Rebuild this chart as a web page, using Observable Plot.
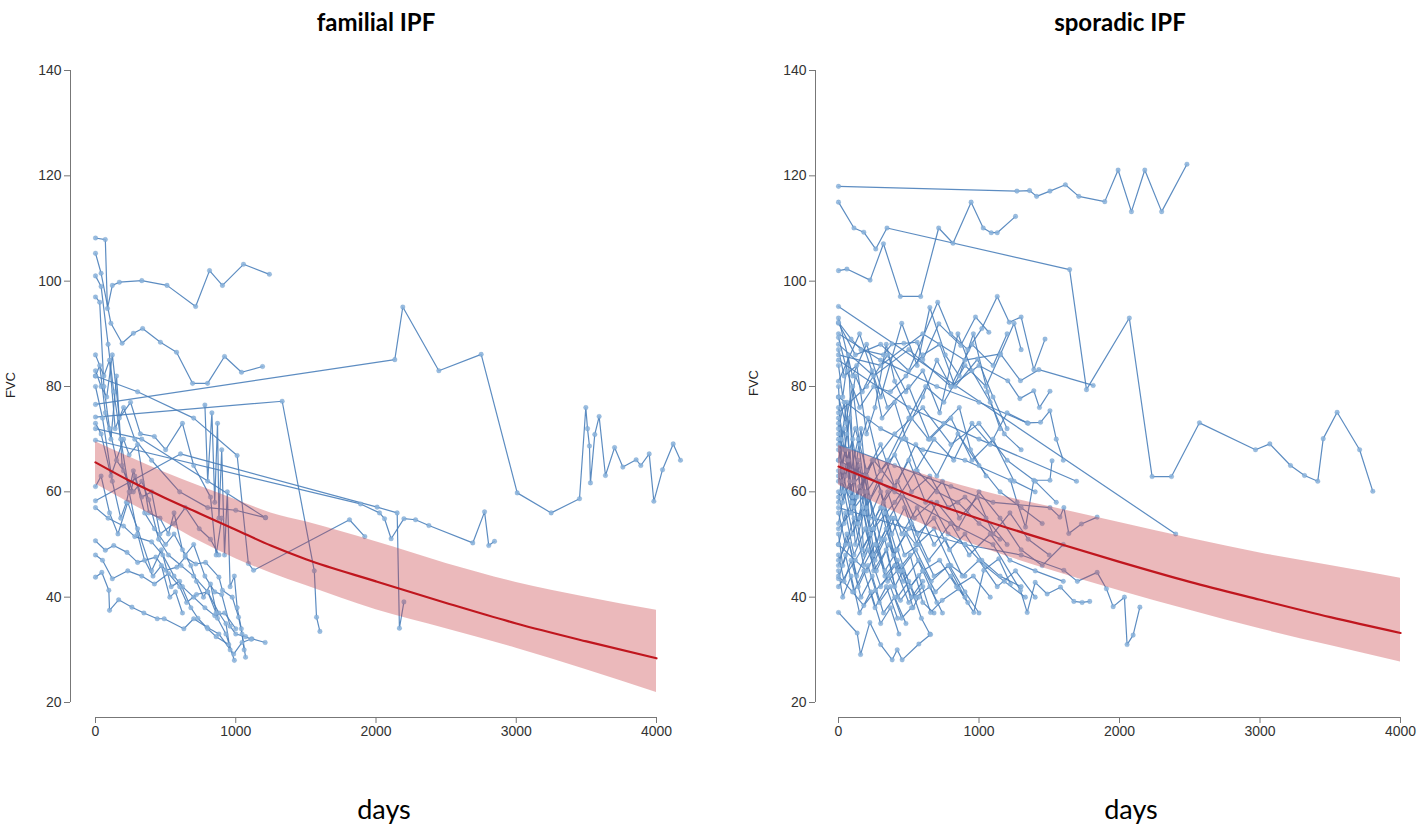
<!DOCTYPE html>
<html>
<head>
<meta charset="utf-8">
<script src="https://cdn.jsdelivr.net/npm/d3@7"></script>
<script src="https://cdn.jsdelivr.net/npm/@observablehq/plot@0.6"></script>
<style>
  body { margin: 0; background: #fff; }
  #wrap { position: relative; width: 1418px; height: 827px; overflow: hidden; background: #fff; }
  .panel { position: absolute; top: 0; }
  .title { position: absolute; top: 7px; font-family: Lato, "Open Sans", sans-serif; font-weight: 700; font-size: 24px; color: #000; transform: translateX(-50%); white-space: nowrap; }
  .xlab { position: absolute; top: 792px; font-family: Lato, "Open Sans", sans-serif; font-size: 27px; color: #000; transform: translateX(-50%); }
  .ylab { position: absolute; font-family: "Liberation Sans", Arial, sans-serif; font-size: 13px; color: #222; transform: translate(-50%, -50%) rotate(-90deg); }
</style>
</head>
<body>
<div id="wrap">
  <div class="title" style="left:376px">familial IPF</div>
  <div class="title" style="left:1120px">sporadic IPF</div>
  <div class="xlab" style="left:384px">days</div>
  <div class="xlab" style="left:1131px">days</div>
  <div class="ylab" style="left:10px; top:385px">FVC</div>
  <div class="ylab" style="left:753px; top:383px">FVC</div>
  <div id="left" class="panel" style="left:0px"></div>
  <div id="right" class="panel" style="left:709px"></div>
</div>
<script>
// ---------- tick labels ----------
const yTicks = [20, 40, 60, 80, 100, 120, 140];
const xTicks = [0, 1000, 2000, 3000, 4000];

// ---------- familial IPF: patient trajectories [day, FVC] ----------
const familialTrajectories = [
  [[0,108.2],[70,107.9],[85,94.8],[120,99.2],[170,99.8],[330,100.1],[510,99.2],[714,95.2],[813,102],[905,99.2],[1055,103.2],[1240,101.3]],
  [[0,105.3],[40,101.5],[110,92],[190,88.2],[270,90.1],[336,91],[463,88.4],[578,86.5],[692,80.6],[799,80.6],[920,85.7],[1041,82.7],[1191,83.8]],
  [[0,76.6],[2134,85.1],[2191,95.1],[2448,83],[2750,86.1],[3007,59.8],[3249,56],[3451,58.7],[3496,76],[3508,72],[3522,68.7],[3529,61.7],[3560,70.9],[3591,74.3],[3636,63.1],[3701,68.4],[3760,64.7],[3855,66.1],[3888,65],[3948,67.2],[3981,58.2],[4043,64.2],[4119,69.1],[4171,66]],
  [[0,74.2],[1331,77.2],[1560,45],[1576,36.2],[1600,33.5]],
  [[0,69.8],[1890,57.7],[2025,56],[2061,54.9],[2108,51.1],[2199,54.9],[2282,54.7],[2377,53.6],[2690,50.3],[2774,56.2],[2804,49.8],[2845,50.6]],
  [[0,58.3],[606,67.2],[2008,57.1],[2151,56],[2167,34.1],[2199,39.1]],
  [[0,82],[300,79],[700,74],[1010,66.9],[1090,46.4],[1127,45.1],[1811,54.7],[1920,51.5]],
  [[0,43.8],[45,44.7],[95,41.3],[100,37.5],[165,39.5],[260,38.1],[345,37],[440,35.9],[490,35.9],[630,34],[700,35.9],[795,34.3],[880,33],[985,29.2],[1045,31.4],[1115,32.1],[1210,31.4]],
  [[0,50.7],[70,48.9],[130,49.8],[225,48.5],[300,46.6],[430,47.6],[500,45.1],[580,45.7],[640,47.6],[715,46.3],[785,46.6],[880,43.8],[905,41.3],[975,40],[1020,36.2],[1045,33],[1070,28.6]],
  [[0,57],[90,55],[200,53.5],[280,51.5],[400,50.5],[480,48],[560,44],[620,42],[700,40],[780,38],[850,36.5],[920,37],[1000,34]],
  [[0,48],[50,47],[120,43.5],[230,45],[330,44],[420,42.5],[520,44.5],[600,42],[650,39],[720,40.5],[800,41],[880,37],[930,35],[960,30]],
  [[780,76.5],[800,62],[830,75],[850,58],[870,73],[880,55],[900,68],[920,48],[940,60],[960,42],[990,44],[1010,38],[1040,34],[1060,30]],
  [[0,86],[60,82],[100,85],[140,72],[200,76],[280,70],[400,66],[600,60],[800,57],[1000,56.5],[1212,55.1]],
  [[0,83],[40,80],[80,78],[120,86],[170,74],[250,77],[320,71],[420,70.5],[500,68],[620,73],[700,65],[820,59],[860,48],[900,55]],
  [[0,82],[30,84],[70,75],[110,70],[150,82],[190,65],[250,60],[280,63],[350,56],[420,53],[500,50],[560,52],[640,48],[700,50],[780,44],[850,41],[900,40.5],[960,34.5],[1000,33],[1070,32.5],[1110,32]],
  [[0,97],[30,96],[60,80],[100,72],[150,66],[200,64],[270,60],[330,62],[380,58.5],[450,51],[520,48],[610,46],[700,44],[800,41],[860,37]],
  [[0,73],[40,71],[110,63],[200,70],[240,67],[300,69],[380,56],[460,55],[520,52],[560,56],[620,49],[680,46],[720,43],[770,40],[820,42.5],[870,36],[930,33],[990,28]],
  [[0,80],[50,74],[120,62],[180,55],[220,58],[270,64],[330,59],[400,60],[460,52],[560,54],[640,57],[740,53],[820,51],[880,48]],
  [[0,61],[40,63],[100,56],[160,52],[230,58],[300,53],[400,45],[470,49],[540,42],[600,43],[680,38],[730,36],[800,34],[860,32.5],[950,31]],
  [[0,101],[40,99],[90,88],[130,79],[180,70],[240,60],[300,52],[350,47],[410,44],[470,46],[530,40],[570,41],[620,37]],
  [[0,72],[330,70],[1212,55.1]]
];

// ---------- familial IPF: fitted curve and band ----------
const familialFitDays  = [0, 250, 500, 750, 1000, 1250, 1500, 2000, 2500, 3000, 3500, 4000];
const familialFitMean  = [65.6, 62, 58.8, 55.8, 52.8, 49.8, 47.2, 43, 38.9, 35, 31.6, 28.4];
const familialFitUpper = [69.5, 66.5, 63.6, 61, 58.5, 56, 54.3, 50.5, 46.4, 42.8, 40, 37.5];
const familialFitLower = [61.5, 57.8, 54.2, 50.5, 47.3, 44.6, 42.2, 37.6, 34, 30.3, 26.2, 21.9];

// ---------- sporadic IPF: patient trajectories [day, FVC] ----------
const sporadicTrajectories = [
  [[0,118],[1270,117.1],[1360,117.2],[1410,116.1],[1505,117.1],[1615,118.3],[1710,116.1],[1895,115.1],[1990,121.1],[2085,113.2],[2180,121.1],[2300,113.2],[2480,122.2]],
  [[0,115],[110,110.1],[180,109.3],[265,106.1],[345,110.1],[1645,102.2],[1765,79.4],[2070,93],[2232,62.9],[2370,62.9],[2569,73.1],[2968,68],[3070,69.1],[3217,65],[3317,63.1],[3411,62],[3450,70.1],[3549,75.1],[3709,68],[3803,60.1]],
  [[0,86],[300,84],[600,90],[900,85],[1153,86.2],[1295,81.1],[1426,83.2],[1813,80.2]],
  [[0,102],[60,102.3],[225,100.2],[320,107.1],[440,97.1],[585,97.1],[713,110.1],[815,107.2],[944,115],[1030,110.1],[1087,109.2],[1130,109.2],[1260,112.3]],
  [[0,95.2],[2400,52]],
  [[0,92],[120,86],[300,88],[500,83],[706,96],[800,90],[920,87],[1020,91],[1130,97.1],[1215,92.2],[1300,93.2],[1390,83.2],[1470,89]],
  [[0,88],[250,82],[500,87],[800,80],[1000,84],[1205,81.1],[1291,77.7],[1390,79.2],[1430,76],[1505,79.1]],
  [[0,92.2],[90,89],[160,87],[320,86],[380,88.1],[465,88.2],[560,88.4],[600,85.1],[714,91.9],[870,87.8],[975,93.2],[1070,90.3]],
  [[0,89.3],[60,83],[150,76],[250,80],[370,79],[480,82],[600,86],[720,88],[830,80],[990,85.2],[1100,78],[1200,72]],
  [[0,87],[40,82],[130,84],[200,71],[260,76],[340,88],[400,81],[520,74],[640,70],[750,73],[860,76],[940,68],[1050,63]],
  [[0,84],[30,78],[70,86],[110,62],[160,72],[220,55],[300,60],[380,52],[470,57],[560,50],[680,53],[800,46],[900,44]],
  [[0,80],[20,70],[60,77],[90,58],[140,66],[180,48],[250,53],[330,44],[420,47],[520,40],[600,43]],
  [[0,78],[50,73],[100,80],[150,69],[210,74],[300,64],[400,67],[520,60],[650,63],[780,57],[900,59],[1050,55],[1200,50]],
  [[0,76],[40,68],[80,74],[130,59],[200,63],[270,50],[330,56],[420,45],[510,48],[600,39],[680,37]],
  [[0,74],[30,65],[60,71],[120,82],[170,79],[240,83],[310,74],[400,77],[480,70],[560,64],[700,60],[850,58],[1000,54],[1150,51]],
  [[0,73],[25,62],[80,68],[130,54],[190,60],[260,47],[330,51],[400,42],[460,45],[530,38],[570,40]],
  [[0,72],[40,77],[90,64],[140,70],[200,57],[280,62],[360,55],[450,59],[560,52],[680,55],[790,49],[900,52],[1020,47],[1150,44],[1300,42]],
  [[0,71],[60,66],[120,72],[200,64],[300,69],[400,61],[500,66],[620,58],[740,62],[860,55],[990,59],[1100,52],[1220,56],[1350,51],[1500,48]],
  [[0,70],[30,60],[70,66],[120,50],[180,56],[250,45],[340,49],[420,40],[500,43],[590,36],[650,33]],
  [[0,68],[50,63],[100,70],[160,60],[240,66],[320,58],[420,62],[540,55],[660,58],[780,52],[900,50],[1040,46],[1180,43],[1330,40]],
  [[0,66],[40,72],[80,60],[150,65],[220,53],[300,57],[390,48],[480,52],[600,45],[720,47],[840,42],[960,44],[1080,40]],
  [[0,64],[30,58],[80,62],[140,54],[220,59],[300,51],[380,55],[470,48],[570,50],[680,44],[790,46],[900,41],[1000,37]],
  [[0,62],[50,68],[110,57],[180,63],[260,55],[350,60],[450,52],[560,57],[680,50],[800,54],[930,48],[1080,52],[1220,47],[1400,45],[1600,43]],
  [[0,60],[40,54],[100,59],[170,49],[250,53],[330,45],[420,49],[510,42],[600,45],[700,39]],
  [[0,58],[30,64],[90,56],[150,61],[230,52],[320,57],[410,49],[520,54],[640,47],[760,51],[880,44],[1000,47],[1130,42],[1260,45],[1400,40]],
  [[0,56],[50,50],[110,55],[180,46],[260,50],[350,43],[450,46],[550,40],[650,42],[740,37]],
  [[0,54],[40,60],[100,52],[170,57],[250,48],[340,53],[440,45],[550,49],[660,43],[780,46],[900,40]],
  [[0,52],[30,46],[80,50],[140,42],[210,46],[290,39],[370,42],[450,36],[520,38]],
  [[0,50],[50,56],[110,48],[190,53],[270,45],[360,50],[460,43],[570,47],[690,41],[800,44],[920,39]],
  [[0,48],[40,43],[90,47],[160,40],[240,44],[320,37],[400,40],[480,35]],
  [[0,46],[60,52],[130,44],[210,49],[300,42],[400,46],[500,39],[600,42]],
  [[0,45],[30,40],[90,44],[150,37],[230,41],[300,35],[370,38],[430,33]],
  [[0,43.5],[50,48],[110,41],[180,45],[260,38],[340,42],[420,36]],
  [[0,37.1],[133,33.2],[157,29.1],[223,35.2],[300,31],[382,28.1],[418,30],[453,28.1],[572,31.1],[655,32.9]],
  [[0,44],[100,41],[180,38.4],[263,41.3],[360,44],[441,39.4],[572,44.1],[655,37.1],[738,39.4],[856,41.6],[963,37.1],[1034,45.1],[1141,47.3],[1224,42.5]],
  [[0,66],[400,60],[800,54],[1100,50],[1295,41.3],[1343,37.1],[1400,42.8],[1485,40.6],[1580,41.9],[1675,39.2],[1734,39],[1788,39.2]],
  [[0,57],[500,53],[900,50],[1300,48],[1604,45.1],[1700,43],[1841,44.7],[1907,41.6],[1955,38.2],[2035,40],[2054,31],[2097,32.8],[2145,38.1]],
  [[0,78],[300,72],[600,68],[900,66],[1224,62.2],[1271,58],[1331,53.3],[1390,62.2],[1505,62.2],[1520,65.9]],
  [[0,69],[400,65],[800,61],[1100,58],[1505,57],[1576,55.2],[1604,57],[1639,52.1],[1729,53.9],[1841,55.2]],
  [[0,85],[500,76],[1000,70],[1694,62]],
  [[0,90],[300,85],[700,80],[1000,77],[1343,73.1],[1438,73.2],[1505,75.4],[1550,70],[1600,66]],
  [[0,81],[150,90],[300,78],[450,92],[560,84],[650,95],[760,86],[860,82],[960,90],[1060,79],[1150,72]],
  [[0,75],[200,80],[350,86],[480,79],[600,83],[720,75],[850,90],[950,83],[1080,77],[1180,71],[1300,68]],
  [[0,93],[100,82],[200,88],[350,76],[500,80],[650,70],[800,74],[950,66],[1100,70],[1250,62],[1400,60]],
  [[0,47],[150,55],[300,62],[450,70],[600,78],[700,85],[800,80],[950,88],[1100,84],[1200,90]],
  [[0,53],[200,60],[350,66],[500,74],[620,80],[750,77],[900,84],[1050,80],[1150,86],[1250,92],[1300,87]],
  [[0,42],[120,47],[250,53],[400,58],[550,64],[680,70],[820,66],[950,73],[1080,69],[1200,75],[1350,73]],
  [[0,59],[200,64],[400,71],[600,76],[800,69],[1000,73],[1200,66],[1400,62],[1550,58]],
  [[0,63],[100,58],[250,66],[400,61],[550,69],[700,63],[850,71],[1000,65],[1150,60],[1300,57],[1450,54]],
  [[0,50],[200,45],[400,55],[550,50],[700,58],[850,53],[1000,60],[1150,55],[1300,49],[1450,46],[1600,50]]
];

// ---------- sporadic IPF: fitted curve and band ----------
const sporadicFitDays  = [0, 500, 1000, 1500, 2000, 2500, 3000, 3500, 4000];
const sporadicFitMean  = [64.8, 59.5, 54.9, 50.7, 46.7, 42.9, 39.5, 36.2, 33.2];
const sporadicFitUpper = [68.8, 64.2, 60.3, 57.2, 54.2, 51.2, 48.4, 46, 43.6];
const sporadicFitLower = [61.3, 55, 49.6, 45.2, 41.2, 37.5, 34, 30.8, 27.7];

// ---------- build tables ----------
function toRows(list) {
  return list.flatMap((traj, i) => traj.map(([day, fvc]) => ({id: i, day, fvc})));
}
function toFit(days, mean, upper, lower) {
  return days.map((d, i) => ({day: d, mean: mean[i], upper: upper[i], lower: lower[i]}));
}

const LINE = "#4a80ba";
const DOT = "#8ab3dc";
const AXIS = "#777";

function panel({rows, fit, marginLeft, insetLeft, marginRight}) {
  return Plot.plot({
    width: 709,
    height: 827,
    marginLeft, marginRight,
    marginTop: 70,
    marginBottom: 110,
    x: {domain: [0, 4000], insetLeft, insetRight: 0},
    y: {domain: [20, 140], insetBottom: 15, insetTop: 0},
    style: {fontFamily: "'Liberation Sans', Arial, sans-serif", fontSize: "14px", color: "#333", background: "transparent", overflow: "visible"},
    marks: [
      Plot.ruleX([0], {y1: 20, y2: 140, dx: -insetLeft, stroke: AXIS, strokeWidth: 1}),
      Plot.ruleY([20], {x1: 0, x2: 4000, dy: 15, stroke: AXIS, strokeWidth: 1}),
      Plot.axisY(yTicks, {anchor: "left", tickSize: 6, label: null, stroke: AXIS, fill: "#333", fontSize: 14, tickFormat: d3.format("d")}),
      Plot.axisX(xTicks, {anchor: "bottom", tickSize: 6, label: null, stroke: AXIS, fill: "#333", fontSize: 14, tickFormat: d3.format("d")}),
      Plot.line(rows, {x: "day", y: "fvc", z: "id", stroke: LINE, strokeWidth: 1.2, strokeOpacity: 0.9, clip: false}),
      Plot.dot(rows, {x: "day", y: "fvc", r: 2.3, fill: DOT, fillOpacity: 0.85, stroke: LINE, strokeWidth: 0.4, strokeOpacity: 0.5}),
      Plot.areaY(fit, {x: "day", y1: "lower", y2: "upper", fill: "rgb(200,60,66)", fillOpacity: 0.36, curve: "monotone-x"}),
      Plot.line(fit, {x: "day", y: "mean", stroke: "#c0161e", strokeWidth: 2.2, curve: "monotone-x"})
    ]
  });
}

document.getElementById("left").appendChild(panel({
  rows: toRows(familialTrajectories),
  fit: toFit(familialFitDays, familialFitMean, familialFitUpper, familialFitLower),
  marginLeft: 70, insetLeft: 25, marginRight: 53
}));
document.getElementById("right").appendChild(panel({
  rows: toRows(sporadicTrajectories),
  fit: toFit(sporadicFitDays, sporadicFitMean, sporadicFitUpper, sporadicFitLower),
  marginLeft: 106, insetLeft: 23, marginRight: 18
}));
</script>
</body>
</html>
